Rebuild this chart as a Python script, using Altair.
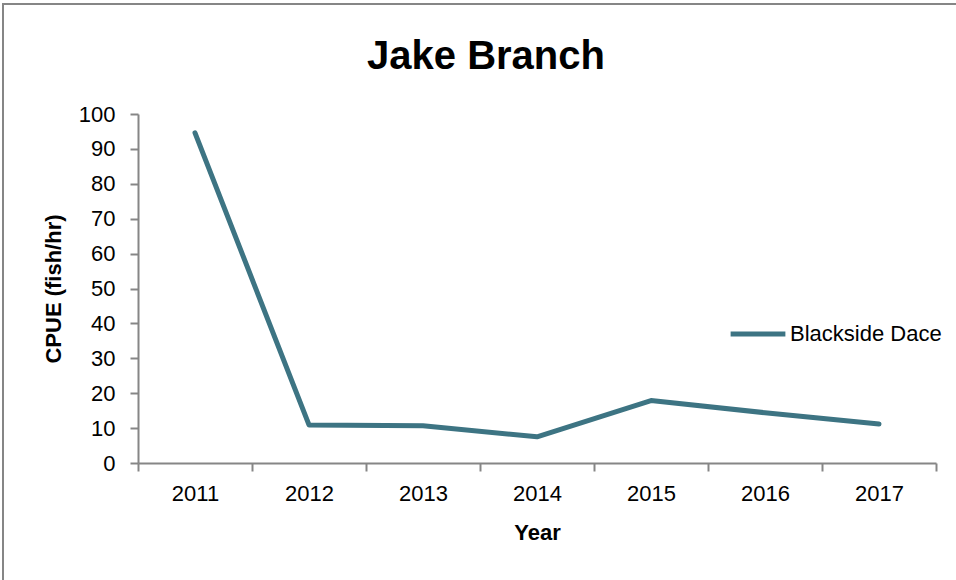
import altair as alt
import pandas as pd

title_text = "Jake Branch"
years = ["2011", "2012", "2013", "2014", "2015", "2016", "2017"]
cpue = [94.6, 10.9, 10.7, 7.5, 17.9, 14.4, 11.2]
series = ["Blackside Dace"] * len(years)

df = pd.DataFrame({"Year": years, "CPUE": cpue, "Series": series})

FONT = "Liberation Sans Narrow, Arial Narrow, Liberation Sans, Arial, sans-serif"
LINE = "#3d7483"
AX = "#868686"

line = alt.Chart(df).mark_line(strokeWidth=5, strokeCap="round", strokeJoin="round").encode(
    x=alt.X("Year:N", bandPosition=0.5,
            scale=alt.Scale(type="band", paddingInner=0, paddingOuter=0),
            axis=alt.Axis(title="Year", tickBand="extent", labelAngle=0, grid=False,
                          tickSize=8, labelPadding=12, titlePadding=18,
                          labelFontSize=22, titleFontSize=22, titleFontWeight="bold",
                          labelColor="black", titleColor="black",
                          domainColor=AX, tickColor=AX, domainWidth=2, tickWidth=2,
                          labelFont=FONT, titleFont=FONT)),
    y=alt.Y("CPUE:Q",
            scale=alt.Scale(domain=[0, 100], nice=False),
            axis=alt.Axis(title="CPUE (fish/hr)", values=list(range(0, 101, 10)), grid=False,
                          tickSize=8, labelPadding=15, titlePadding=13,
                          labelFontSize=22, titleFontSize=22, titleFontWeight="bold",
                          labelColor="black", titleColor="black",
                          domainColor=AX, tickColor=AX, domainWidth=2, tickWidth=2,
                          labelFont=FONT, titleFont=FONT)),
    color=alt.Color("Series:N", scale=alt.Scale(range=[LINE]),
                    legend=alt.Legend(title=None, orient="none", legendX=590, legendY=190,
                                      symbolType="stroke", symbolStrokeWidth=5, symbolSize=3000,
                                      labelFontSize=22, labelFont=FONT, labelColor="black",
                                      labelOffset=2)),
)

border = alt.Chart(pd.DataFrame({"a": [0]})).mark_rect(
    fill=None, stroke=AX, strokeWidth=2
).encode(x=alt.value(-135), x2=alt.value(830), y=alt.value(-110), y2=alt.value(480))

title = alt.Chart(pd.DataFrame({"t": [title_text]})).mark_text(
    fontSize=40, font=FONT, fontWeight="bold", color="black", align="center", baseline="middle"
).encode(text="t:N", x=alt.value(348), y=alt.value(-57))

chart = alt.layer(border, title, line).properties(
    width=798, height=349,
    autosize=alt.AutoSizeParams(type="none"),
    padding={"left": 138, "top": 114, "right": 20, "bottom": 117},
).configure_view(stroke=None)

chart.save("out.html", embed_options={"renderer": "svg", "actions": False})
